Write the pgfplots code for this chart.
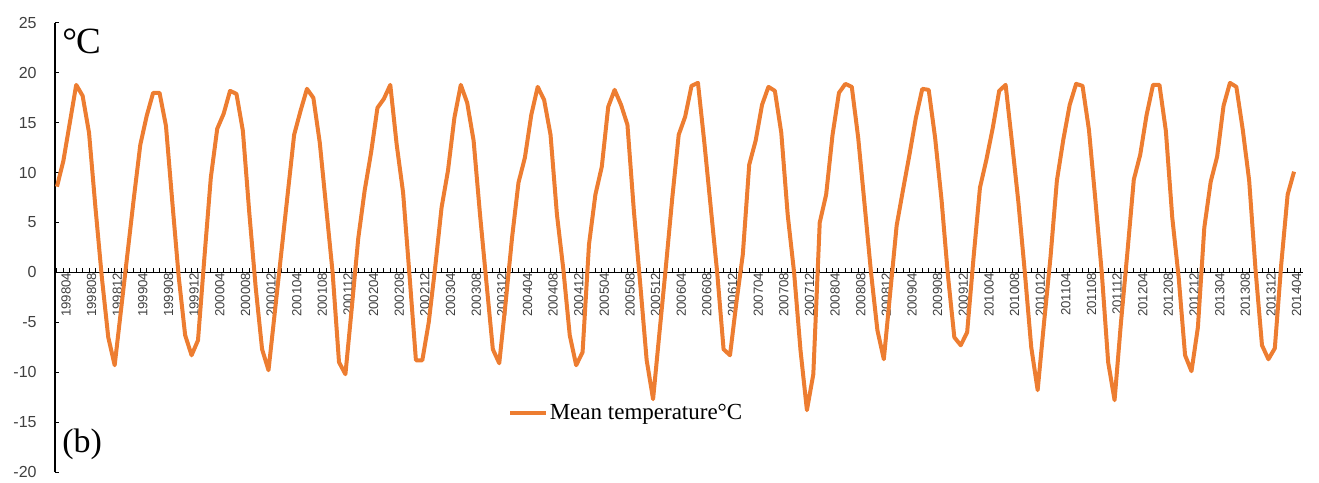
\documentclass[border=0pt]{standalone}
\usepackage{fontspec}
\setmainfont{Liberation Serif}
\newfontfamily\sansf{Liberation Sans}
\usepackage{pgfplots}
\usepackage{pgfplotstable}
\pgfplotsset{compat=1.18}
\definecolor{lineorange}{HTML}{ED7D31}
\definecolor{ticklab}{HTML}{404040}

\pgfplotstableread{
i t
0 8.6
1 11.2
2 15.0
3 18.8
4 17.7
5 14.0
6 6.5
7 -0.5
8 -6.5
9 -9.3
10 -3.7
11 1.9
12 7.5
13 12.8
14 15.7
15 18.0
16 18.0
17 14.7
18 7.0
19 -0.5
20 -6.3
21 -8.3
22 -6.8
23 1.5
24 9.5
25 14.4
26 15.9
27 18.2
28 17.9
29 14.2
30 6.0
31 -1.5
32 -7.7
33 -9.8
34 -3.9
35 2.0
36 7.9
37 13.8
38 16.2
39 18.4
40 17.5
41 13.0
42 6.5
43 0.0
44 -9.0
45 -10.2
46 -3.5
47 3.4
48 8.2
49 12.0
50 16.5
51 17.4
52 18.8
53 12.8
54 8.0
55 -0.3
56 -8.8
57 -8.8
58 -5.0
59 0.5
60 6.5
61 10.2
62 15.5
63 18.8
64 17.0
65 13.2
66 5.8
67 -1.0
68 -7.7
69 -9.1
70 -3.0
71 3.5
72 9.0
73 11.5
74 15.8
75 18.6
76 17.3
77 13.8
78 5.8
79 0.3
80 -6.3
81 -9.3
82 -8.0
83 2.8
84 7.8
85 10.6
86 16.6
87 18.3
88 16.8
89 14.8
90 6.2
91 -1.2
92 -8.8
93 -12.7
94 -6.0
95 0.6
96 7.5
97 13.8
98 15.6
99 18.7
100 19.0
101 13.0
102 6.5
103 0.0
104 -7.7
105 -8.3
106 -3.0
107 1.8
108 10.8
109 13.2
110 16.8
111 18.6
112 18.2
113 14.0
114 5.8
115 0.0
116 -7.8
117 -13.8
118 -10.2
119 5.0
120 7.8
121 13.8
122 18.0
123 18.9
124 18.6
125 13.5
126 6.8
127 0.0
128 -5.8
129 -8.7
130 -2.0
131 4.7
132 8.3
133 11.8
134 15.5
135 18.4
136 18.3
137 13.5
138 7.3
139 -0.3
140 -6.5
141 -7.3
142 -6.0
143 1.5
144 8.5
145 11.3
146 14.5
147 18.2
148 18.8
149 13.0
150 7.0
151 0.0
152 -7.5
153 -11.8
154 -5.0
155 1.5
156 9.2
157 13.3
158 16.8
159 18.9
160 18.7
161 14.3
162 7.3
163 0.0
164 -9.0
165 -12.8
166 -5.0
167 2.0
168 9.3
169 11.8
170 15.8
171 18.8
172 18.8
173 14.2
174 5.5
175 -0.5
176 -8.3
177 -9.9
178 -5.5
179 4.5
180 9.1
181 11.6
182 16.7
183 19.0
184 18.6
185 14.3
186 9.2
187 0.2
188 -7.3
189 -8.7
190 -7.6
191 0.8
192 7.8
193 10.1
}\datatable

\begin{document}
\begin{tikzpicture}
\begin{axis}[
  name=ax,
  scale only axis,
  width=624pt, height=224.5pt,
  xmin=-0.31, xmax=194.4,
  ymin=-20, ymax=25,
  axis x line*=middle,
  axis y line*=left,
  axis line style={line width=0.6pt, black},
  every tick/.style={black, line width=0.5pt},
  tick align=inside,
  major tick length=2pt,
  minor tick length=2pt,
  /pgf/number format/assume math mode=true,
  ytick={-20,-15,...,25},
  xtick={0,4,...,192},
  minor xtick={0,...,194},
  xticklabels={199804,199808,199812,199904,199908,199912,200004,200008,200012,200104,200108,200112,200204,200208,200212,200304,200308,200312,200404,200408,200412,200504,200508,200512,200604,200608,200612,200704,200708,200712,200804,200808,200812,200904,200908,200912,201004,201008,201012,201104,201108,201112,201204,201208,201212,201304,201308,201312,201404},
  xticklabel style={rotate=90, anchor=east, inner sep=0pt, yshift=-4.5pt, text=ticklab, font=\sansf\fontsize{6.6}{6.6}\selectfont},
  yticklabel style={anchor=east, inner sep=0pt, xshift=-9pt, text=ticklab, font=\sansf\fontsize{8}{8}\selectfont},
  clip=false,
  legend style={at={(rel axis cs:0.3628,0.131)}, anchor=west, draw=none, fill=none, inner sep=0pt, font=\fontsize{11.5}{11.5}\selectfont, cells={anchor=west}, nodes={inner xsep=0.8pt, inner ysep=1pt}},
  legend image code/.code={\draw[#1] (0pt,0pt) -- (18pt,0pt);},
]
\addplot[color=lineorange, line width=2pt, line join=round, no markers] table[x=i, y=t] {\datatable};
\addlegendentry{Mean temperature°C}
\coordinate (bl) at (rel axis cs:0,0);
\coordinate (tr) at (rel axis cs:1,1);
\node[anchor=north west, inner sep=0pt, font=\fontsize{18.5}{18.5}\selectfont] at (rel axis cs:0.0056,0.9885) {°\kern-0.5pt C};
\node[anchor=base west, inner sep=0pt, font=\fontsize{17}{17}\selectfont] at (rel axis cs:0.0056,0.0445) {(b)};
\end{axis}
\pgfresetboundingbox
\path[use as bounding box] ([shift={(-27.5pt,-5pt)}]bl) rectangle ([shift={(8pt,11.5pt)}]tr);
\end{tikzpicture}
\end{document}
